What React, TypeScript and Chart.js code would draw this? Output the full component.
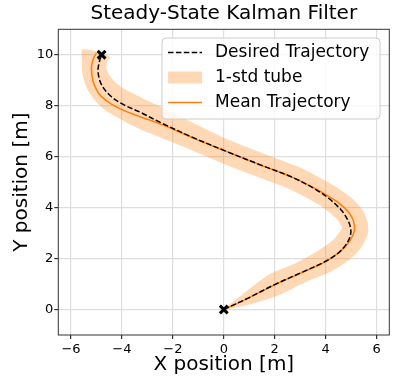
import React, { useEffect, useRef } from "react";
import { Chart, registerables } from "chart.js";

Chart.register(...registerables);

// ---------- data ----------
const titleText = "Steady-State Kalman Filter";
const xLabel = "X position [m]";
const yLabel = "Y position [m]";
const legendLabels = ["Desired Trajectory", "1-std tube", "Mean Trajectory"];

const xTicks = [-6, -4, -2, 0, 2, 4, 6];
const yTicks = [0, 2, 4, 6, 8, 10];

const desiredX = [0, 1, 2, 3, 3.95, 4.5, 4.8, 4.97, 4.98, 4.85, 4.6, 4.1, 3.6, 2.74, 1.43, 0.12, -1.2, -2.45, -3.23, -3.89, -4.41, -4.8, -4.94, -4.88, -4.8];
const desiredY = [0, 0.47, 0.98, 1.43, 1.87, 2.22, 2.55, 2.9, 3.2, 3.55, 3.92, 4.38, 4.72, 5.17, 5.68, 6.2, 6.75, 7.32, 7.72, 8.02, 8.35, 8.82, 9.35, 9.75, 10.0];

const meanX = [0, 1, 2, 3, 4, 4.6, 4.95, 5.13, 5.1, 4.92, 4.6, 4.1, 3.6, 2.74, 1.43, 0.12, -1.2, -2.45, -3.23, -3.89, -4.41, -4.87, -5.13, -5.2, -5.12, -5.0];
const meanY = [0, 0.47, 0.97, 1.42, 1.88, 2.3, 2.7, 3.1, 3.45, 3.8, 4.12, 4.45, 4.74, 5.17, 5.68, 6.2, 6.73, 7.27, 7.55, 7.8, 8.06, 8.43, 8.95, 9.48, 9.85, 10.07];

const tubeCenterX = [0, 1, 2, 3, 3.95, 4.6, 4.98, 5.16, 5.08, 4.8, 4.2, 3.6, 2.74, 1.43, 0.12, -1.2, -2.45, -3.23, -3.89, -4.41, -4.85, -5.08, -5.08, -5.0];
const tubeCenterY = [0, 0.47, 0.98, 1.44, 1.9, 2.33, 2.75, 3.15, 3.5, 3.9, 4.38, 4.73, 5.17, 5.67, 6.18, 6.77, 7.33, 7.68, 8.02, 8.33, 8.8, 9.35, 9.78, 10.07];
const tubeStd = [0.02, 0.27, 0.45, 0.42, 0.48, 0.5, 0.52, 0.52, 0.52, 0.5, 0.48, 0.47, 0.47, 0.47, 0.47, 0.5, 0.55, 0.57, 0.56, 0.55, 0.52, 0.48, 0.5, 0.55];

const markerX = [0, -4.8];
const markerY = [0, 10.0];

// ---------- styling ----------
const FONT = "'DejaVu Sans', sans-serif";
const ORANGE = "#ff7f0e";
const TUBE = "rgba(255,127,14,0.3)";
const DASH = [5.5, 2.4];

const toPoints = (xs: number[], ys: number[]) => xs.map((x, i) => ({ x, y: ys[i] }));

function buildTube() {
  const n = tubeCenterX.length;
  const left: { x: number; y: number }[] = [];
  const right: { x: number; y: number }[] = [];
  for (let i = 0; i < n; i++) {
    const a = Math.max(0, i - 1);
    const b = Math.min(n - 1, i + 1);
    let tx = tubeCenterX[b] - tubeCenterX[a];
    let ty = tubeCenterY[b] - tubeCenterY[a];
    const len = Math.hypot(tx, ty) || 1;
    tx /= len;
    ty /= len;
    const nx = -ty;
    const ny = tx;
    left.push({ x: tubeCenterX[i] + nx * tubeStd[i], y: tubeCenterY[i] + ny * tubeStd[i] });
    right.push({ x: tubeCenterX[i] - nx * tubeStd[i], y: tubeCenterY[i] - ny * tubeStd[i] });
  }
  return [...left, ...right.reverse()];
}

const fmt = (v: number | string) => String(v).replace("-", "\u2212");

const framePlugin = {
  id: "frame",
  afterDatasetsDraw(chart: any) {
    const { ctx, chartArea: a } = chart;
    ctx.save();
    ctx.strokeStyle = "#333";
    ctx.lineWidth = 1;
    ctx.strokeRect(a.left, a.top, a.right - a.left, a.bottom - a.top);
    ctx.restore();
  },
};

const legendPlugin = {
  id: "mplLegend",
  afterDraw(chart: any) {
    const { ctx, chartArea: a } = chart;
    const x1 = a.right - 9.3;
    const y0 = a.top + 8.7;
    const x0 = x1 - 218;
    const h = 81;
    ctx.save();
    ctx.beginPath();
    ctx.roundRect(x0, y0, x1 - x0, h, 4);
    ctx.fillStyle = "rgba(255,255,255,0.8)";
    ctx.fill();
    ctx.strokeStyle = "#cccccc";
    ctx.lineWidth = 1;
    ctx.stroke();

    const hx0 = x0 + 6;
    const hx1 = x0 + 40;
    const rows = [y0 + 14.5, y0 + 39.5, y0 + 64.5];
    ctx.beginPath();
    ctx.setLineDash(DASH);
    ctx.strokeStyle = "#000";
    ctx.lineWidth = 1.5;
    ctx.moveTo(hx0, rows[0]);
    ctx.lineTo(hx1, rows[0]);
    ctx.stroke();
    ctx.setLineDash([]);
    ctx.fillStyle = TUBE;
    ctx.fillRect(hx0, rows[1] - 6, hx1 - hx0, 12);
    ctx.beginPath();
    ctx.strokeStyle = ORANGE;
    ctx.lineWidth = 1.5;
    ctx.moveTo(hx0, rows[2]);
    ctx.lineTo(hx1, rows[2]);
    ctx.stroke();

    ctx.fillStyle = "#000";
    ctx.font = `17px ${FONT}`;
    ctx.textBaseline = "middle";
    ctx.textAlign = "left";
    legendLabels.forEach((t, i) => ctx.fillText(t, x0 + 53, rows[i]));
    ctx.restore();
  },
};

export default function App() {
  const ref = useRef<HTMLCanvasElement | null>(null);

  useEffect(() => {
    if (!ref.current) return;
    const chart = new Chart(ref.current, {
      type: "line",
      data: {
        datasets: [
          {
            label: "markers",
            data: toPoints(markerX, markerY),
            showLine: false,
            pointStyle: "crossRot",
            pointRadius: 5.5,
            pointBorderWidth: 3,
            pointBorderColor: "#000",
            pointBackgroundColor: "#000",
            order: 0,
          } as any,
          {
            label: legendLabels[0],
            data: toPoints(desiredX, desiredY),
            borderColor: "#000",
            borderWidth: 1.5,
            borderDash: DASH,
            pointRadius: 0,
            tension: 0.35,
            fill: false,
            order: 1,
          },
          {
            label: legendLabels[2],
            data: toPoints(meanX, meanY),
            borderColor: ORANGE,
            borderWidth: 1.5,
            pointRadius: 0,
            tension: 0.35,
            fill: false,
            order: 2,
          },
          {
            label: legendLabels[1],
            data: buildTube(),
            borderWidth: 0,
            borderColor: "rgba(0,0,0,0)",
            backgroundColor: TUBE,
            fill: "shape",
            pointRadius: 0,
            tension: 0.3,
            order: 3,
          } as any,
        ],
      },
      options: {
        animation: false,
        responsive: false,
        events: [],
        layout: { padding: { left: 0, top: 0, right: 18.7, bottom: 0 } },
        plugins: {
          legend: { display: false },
          tooltip: { enabled: false },
          title: {
            display: true,
            text: titleText,
            fullSize: false,
            color: "#000",
            font: { family: FONT, size: 20, weight: "normal" },
            padding: { top: 1.8, bottom: 3.5 },
          },
        },
        scales: {
          x: {
            type: "linear",
            min: -6.5,
            max: 6.5,
            afterBuildTicks: (s: any) => {
              s.ticks = xTicks.map((v) => ({ value: v }));
            },
            afterFit: (s: any) => {
              s.height = 49;
            },
            ticks: {
              autoSkip: false,
              maxRotation: 0,
              padding: 3,
              color: "#000",
              font: { family: FONT, size: 13 },
              callback: (v: any) => fmt(v),
            },
            grid: { color: "#dedede", lineWidth: 1.2, tickColor: "#333", tickLength: 4 },
            border: { display: false },
            title: {
              display: true,
              text: xLabel,
              color: "#000",
              font: { family: FONT, size: 20 },
              padding: { top: 0, bottom: 7.6 },
            },
          },
          y: {
            type: "linear",
            min: -1,
            max: 11,
            afterBuildTicks: (s: any) => {
              s.ticks = yTicks.map((v) => ({ value: v }));
            },
            afterFit: (s: any) => {
              s.width = 58.3;
            },
            ticks: {
              autoSkip: false,
              padding: 1,
              color: "#000",
              font: { family: FONT, size: 13 },
              callback: (v: any) => fmt(v),
            },
            grid: { color: "#dedede", lineWidth: 1.2, tickColor: "#333", tickLength: 4 },
            border: { display: false },
            title: {
              display: true,
              text: yLabel,
              color: "#000",
              font: { family: FONT, size: 20 },
              padding: { top: 10.2, bottom: 0 },
            },
          },
        },
      } as any,
      plugins: [framePlugin, legendPlugin],
    });
    return () => chart.destroy();
  }, []);

  return (
    <div style={{ position: "absolute", left: 0, top: 0, width: 408, height: 384 }}>
      <canvas ref={ref} width={408} height={384} />
    </div>
  );
}
